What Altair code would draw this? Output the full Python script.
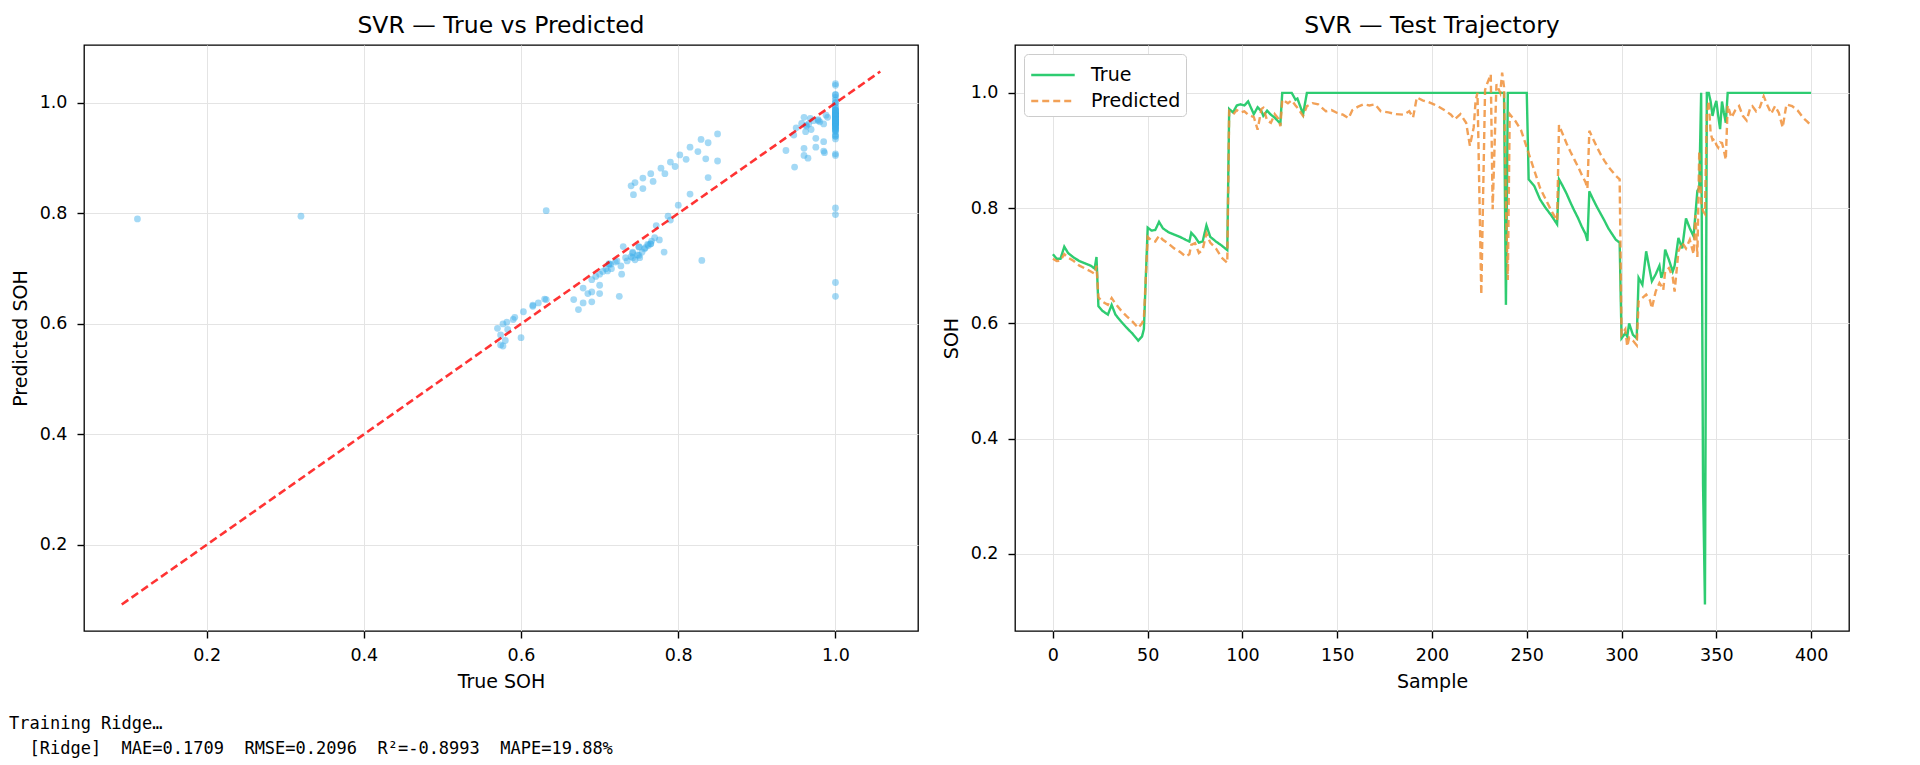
import altair as alt
import pandas as pd

# ---- data ----
sample = [0, 2, 4, 6, 8, 11, 14, 17, 20, 22, 23, 24, 26, 29, 31, 33, 36, 39, 42, 45, 47, 48,
          50, 52, 54, 56, 58, 61, 64, 67, 70, 72, 73, 75, 77, 79, 81, 83, 86, 89, 92,
          93, 95, 97, 99, 101, 103, 106, 108, 110, 111, 113, 115, 117, 119, 120,
          121, 124, 126, 128, 129, 132, 134, 137, 140, 144, 147, 150, 153, 156, 158,
          161, 164, 167, 170, 173, 177, 181, 185, 188, 190, 192, 195, 198, 201, 204,
          207, 210, 212, 215, 218, 220, 222, 223, 224, 226, 228, 229, 231, 232, 234,
          236, 237, 238, 239, 240, 241, 244, 247, 250, 251, 254, 257, 260, 263, 266,
          267, 269, 271, 273, 275, 277, 279, 281, 282, 283, 285, 287, 289, 291, 293,
          295, 297, 299, 300, 302, 303, 304, 306, 308, 309, 311, 313, 315, 316, 318,
          320, 321, 322, 323, 325, 327, 328, 330, 332, 334, 336, 338, 339, 340, 341,
          342, 343, 344, 345, 346, 347, 348, 349, 350, 351, 352, 353, 354, 355, 356,
          358, 360, 362, 364, 366, 368, 369, 371, 373, 375, 377, 379, 381, 383, 385,
          387, 390, 393, 396, 398, 400]

true_soh = [0.720, 0.712, 0.712, 0.733, 0.722, 0.714, 0.708, 0.704, 0.700, 0.695, 0.715, 0.630,
            0.622, 0.615, 0.632, 0.615, 0.603, 0.592, 0.582, 0.570, 0.577, 0.590,
            0.766, 0.761, 0.762, 0.776, 0.765, 0.758, 0.754, 0.750, 0.745, 0.742, 0.757,
            0.750, 0.740, 0.742, 0.770, 0.750, 0.742, 0.735, 0.727,
            0.972, 0.966, 0.978, 0.980, 0.978, 0.985, 0.963, 0.975, 0.968, 0.960, 0.969,
            0.962, 0.957, 0.950, 0.947,
            1.000, 1.000, 1.000, 0.988, 0.990, 0.963, 1.000, 1.000, 1.000, 1.000, 1.000,
            1.000, 1.000, 1.000, 1.000,
            1.000, 1.000, 1.000, 1.000, 1.000, 1.000, 1.000, 1.000, 1.000, 1.000, 1.000,
            1.000, 1.000, 1.000, 1.000,
            1.000, 1.000, 1.000, 1.000, 1.000, 1.000, 1.000, 1.000, 1.000, 1.000, 1.000,
            1.000, 1.000, 1.000, 1.000,
            1.000, 1.000, 1.000, 0.632, 1.000, 1.000, 1.000, 1.000, 1.000, 0.850, 0.838,
            0.815, 0.800, 0.787, 0.772,
            0.850, 0.838, 0.825, 0.810, 0.796, 0.783, 0.768, 0.755, 0.743, 0.829, 0.815,
            0.802, 0.790, 0.778, 0.765,
            0.755, 0.745, 0.740, 0.574, 0.583, 0.577, 0.600, 0.580, 0.574, 0.679, 0.667,
            0.725, 0.690, 0.673, 0.685,
            0.700, 0.679, 0.690, 0.728, 0.710, 0.690, 0.700, 0.748, 0.730, 0.782, 0.765,
            0.751, 0.790, 0.830, 0.835,
            1.000, 0.320, 0.112, 1.000, 1.000, 0.985, 0.960, 0.975, 0.986, 0.960, 0.937,
            0.985, 0.965, 0.948, 1.000,
            1.000, 1.000, 1.000, 1.000, 1.000, 1.000, 1.000, 1.000, 1.000, 1.000, 1.000,
            1.000, 1.000, 1.000, 1.000,
            1.000, 1.000, 1.000, 1.000, 1.000, 1.000]

pred_soh = [0.712, 0.708, 0.709, 0.720, 0.714, 0.708, 0.700, 0.695, 0.690, 0.686, 0.700, 0.645,
            0.638, 0.632, 0.644, 0.634, 0.622, 0.612, 0.603, 0.592, 0.600, 0.608,
            0.750, 0.744, 0.742, 0.752, 0.745, 0.738, 0.730, 0.724, 0.716, 0.720, 0.736,
            0.739, 0.722, 0.728, 0.756, 0.740, 0.730, 0.714, 0.705,
            0.968, 0.962, 0.970, 0.966, 0.968, 0.962, 0.958, 0.936, 0.972, 0.974, 0.952,
            0.948, 0.963, 0.955, 0.942,
            0.988, 0.982, 0.987, 0.978, 0.974, 0.960, 0.977, 0.982, 0.980, 0.968, 0.970,
            0.965, 0.962, 0.956, 0.970,
            0.976, 0.980, 0.978, 0.980, 0.968, 0.966, 0.963, 0.962, 0.968, 0.957, 0.992,
            0.987, 0.984, 0.980, 0.975,
            0.969, 0.962, 0.954, 0.963, 0.948, 0.908, 0.940, 0.986, 1.000, 0.650, 1.005,
            1.015, 1.032, 0.798, 1.015,
            1.000, 1.035, 1.010, 0.805, 0.675, 0.963, 0.951, 0.935, 0.905, 0.895, 0.865,
            0.835, 0.815, 0.795, 0.778,
            0.944, 0.928, 0.912, 0.898, 0.885, 0.872, 0.858, 0.845, 0.834, 0.934, 0.920,
            0.906, 0.893, 0.882, 0.872,
            0.864, 0.856, 0.850, 0.580, 0.590, 0.560, 0.575, 0.570, 0.562, 0.638, 0.644,
            0.650, 0.640, 0.626, 0.655,
            0.670, 0.665, 0.658, 0.690, 0.696, 0.680, 0.655, 0.725, 0.740, 0.730, 0.745,
            0.720, 0.788, 0.715, 0.899,
            0.810, 0.795, 0.790, 0.964, 0.986, 0.930, 0.918, 0.920, 0.910, 0.905, 0.914,
            0.913, 0.900, 0.884, 0.978,
            0.957, 0.970, 0.977, 0.960, 0.952, 0.975, 0.977, 0.968, 0.975, 0.994, 0.978,
            0.964, 0.977, 0.965, 0.940,
            0.980, 0.977, 0.969, 0.956, 0.950, 0.943]

ref_line = [0.092, 1.057]          # ends of the y = x reference line
series_names = ["True", "Predicted"]
log_lines = ["Training Ridge\u2026",
             "  [Ridge]  MAE=0.1709  RMSE=0.2096  R\u00b2=-0.8993  MAPE=19.88%"]

# ---- tables ----
pairs = pd.DataFrame({"sample": sample, "true": true_soh, "pred": pred_soh})
long = pd.concat([
    pd.DataFrame({"sample": sample, "soh": true_soh, "series": series_names[0], "k": 0}),
    pd.DataFrame({"sample": sample, "soh": pred_soh, "series": series_names[1], "k": 1}),
])
diag = pd.DataFrame({"a": ref_line, "b": ref_line})

FONT = "DejaVu Sans"
TICK = 17.5
LAB = 19
GRID = "#e4e4e4"

def xaxis(title, values, fmt):
    return alt.Axis(title=title, values=values, format=fmt, grid=True, gridColor=GRID,
                    domain=False, tickSize=7, tickWidth=1.4, tickColor="black",
                    labelPadding=8, labelFontSize=TICK, labelColor="black", labelFont=FONT,
                    titleFontSize=LAB, titleFontWeight="normal", titleColor="black",
                    titleFont=FONT, titlePadding=9)

def yaxis(title, values, fmt):
    return alt.Axis(title=title, values=values, format=fmt, grid=True, gridColor=GRID,
                    domain=False, tickSize=7, tickWidth=1.4, tickColor="black",
                    labelPadding=10, labelFontSize=TICK, labelColor="black", labelFont=FONT,
                    titleFontSize=LAB, titleFontWeight="normal", titleColor="black",
                    titleFont=FONT, titlePadding=9, minExtent=45, maxExtent=45)

W, H = 834, 586

def ttl(text):
    return alt.TitleParams(text, fontSize=23.5, fontWeight="normal", font=FONT,
                           color="black", anchor="middle", offset=8)

# ---- left: true vs predicted ----
xs = alt.Scale(domain=[0.044, 1.105], nice=False, zero=False)
ys = alt.Scale(domain=[0.044, 1.105], nice=False, zero=False)

pts = alt.Chart(pairs).mark_circle(size=46, color="#3daeea", opacity=0.47).encode(
    x=alt.X("true:Q", scale=xs, axis=xaxis("True SOH", [0.2, 0.4, 0.6, 0.8, 1.0], ".1f")),
    y=alt.Y("pred:Q", scale=ys, axis=yaxis("Predicted SOH", [0.2, 0.4, 0.6, 0.8, 1.0], ".1f")),
)
ref = alt.Chart(diag).mark_line(color="#ff0000", opacity=0.8, strokeWidth=2.6,
                                strokeDash=[8, 4]).encode(
    x=alt.X("a:Q", scale=xs), y=alt.Y("b:Q", scale=ys))

MONO_W = 17 * 0.602          # width of one monospace character
txt_layers = []
for i, line in enumerate(log_lines):
    indent = len(line) - len(line.lstrip(" "))
    shown = line.lstrip(" ").replace(" ", "\u00a0")   # keep the runs of spaces in SVG
    txt_layers.append(
        alt.Chart(pd.DataFrame({"t": [shown]})).mark_text(
            align="left", baseline="middle", font="DejaVu Sans Mono", fontSize=17,
            color="black").encode(text="t:N", x=alt.value(-75 + indent * MONO_W),
                                  y=alt.value(679 + 25 * i)))

left = alt.layer(pts, ref, *txt_layers).properties(width=W, height=H,
                                                   title=ttl("SVR \u2014 True vs Predicted"))

# ---- right: trajectory ----
sx = alt.Scale(domain=[-20, 420], nice=False, zero=False)
sy = alt.Scale(domain=[0.066, 1.083], nice=False, zero=False)

traj = alt.Chart(long).mark_line(strokeWidth=2.4).encode(
    x=alt.X("sample:Q", scale=sx, axis=xaxis("Sample", list(range(0, 401, 50)), "d")),
    y=alt.Y("soh:Q", scale=sy, axis=yaxis("SOH", [0.2, 0.4, 0.6, 0.8, 1.0], ".1f")),
    color=alt.Color("series:N", scale=alt.Scale(domain=series_names,
                                                range=["#2ecc71", "#f0913a"]),
                    legend=alt.Legend(title=None, orient="top-left", offset=9,
                                      fillColor="white", strokeColor="#cccccc",
                                      cornerRadius=4, padding=5,
                                      symbolType="M-0.95,0H2.05",
                                      symbolSize=841, symbolStrokeWidth=2.4,
                                      labelFontSize=LAB, labelFont=FONT, labelColor="black",
                                      labelOffset=30, rowPadding=0)),
    strokeDash=alt.StrokeDash("series:N", scale=alt.Scale(domain=series_names,
                                                          range=[[1, 0], [7, 4]]),
                              legend=alt.Legend(title=None, orient="top-left")),
    opacity=alt.Opacity("series:N", scale=alt.Scale(domain=series_names, range=[1, 0.85]),
                        legend=None),
    order=alt.Order("k:Q"),
).properties(width=W, height=H, title=ttl("SVR \u2014 Test Trajectory"))

chart = alt.hconcat(left, traj, spacing=22).resolve_legend(
    color="independent", strokeDash="independent", opacity="independent"
).properties(
    padding={"left": 0, "top": 4, "right": 0, "bottom": 0}
).configure(font=FONT, background="white").configure_view(stroke="black", strokeWidth=1.3)

chart.save("out.html", embed_options={"renderer": "svg", "actions": False})
